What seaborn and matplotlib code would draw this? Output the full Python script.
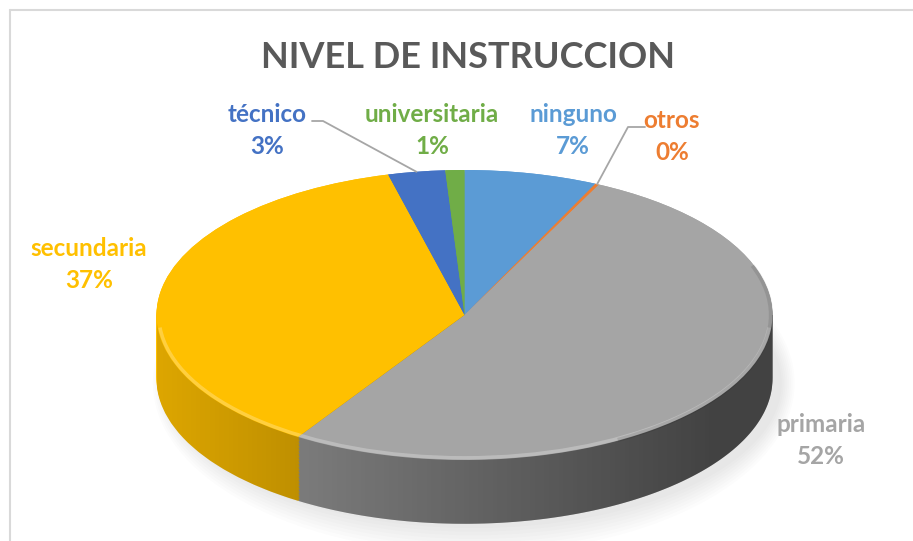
import numpy as np
import matplotlib
matplotlib.use("Agg")
import matplotlib.pyplot as plt
import seaborn as sns
from matplotlib.path import Path
from matplotlib.patches import PathPatch, Arc, Ellipse
from matplotlib.lines import Line2D

# ---- data ----
categories = ["ninguno", "otros", "primaria", "secundaria", "técnico", "universitaria"]
values = [7.0, 0.2, 52.0, 37.0, 3.0, 1.0]
colors = ["#5B9BD5", "#ED7D31", "#A5A5A5", "#FFC000", "#4472C4", "#70AD47"]
title = "NIVEL DE INSTRUCCION"

sns.set_theme(style="white")
plt.rcParams["font.family"] = ["Lato", "DejaVu Sans"]

W, H = 913, 541
fig = plt.figure(figsize=(W / 100, H / 100), dpi=100)
fig.patch.set_facecolor("white")

# pie geometry in pixels
CX, CY, RX, RY = 464.5, 315.0, 308.0, 145.0
T = 0.44  # side thickness in radius units (y)

def px2d(x, y):
    return (x - CX) / RX, (CY - y) / RY

ax = fig.add_axes([0, 0, 1, 1])

# soft shadow beneath
for i in range(8):
    e = Ellipse((0.03, -T - 0.03), 2.0 + 0.012 * i, 2.0 + 0.05 * i,
                facecolor="#000000", alpha=0.012, linewidth=0, zorder=0.5)
    ax.add_patch(e)

# side (extruded body)
for k in np.linspace(T, 0.0, 45):
    ax.pie(values, colors=colors, startangle=90, counterclock=False,
           center=(0, -k), radius=1.0, wedgeprops=dict(linewidth=0, antialiased=True),
           frame=True)

# horizontal darkening gradient on the side
th = np.linspace(np.pi, 2 * np.pi, 200)
verts = list(zip(np.cos(th), np.sin(th) - T)) + [(1, 0), (-1, 0), (-1, -T)]
codes = [Path.MOVETO] + [Path.LINETO] * (len(verts) - 2) + [Path.CLOSEPOLY]
clip = PathPatch(Path(verts, codes), transform=ax.transData, facecolor="none", edgecolor="none")
ax.add_patch(clip)
xs = np.linspace(-1, 1, 400)
xpx = CX + xs * RX
alpha = np.clip(0.14 + (xpx - 160) * 0.00083, 0.12, 0.6)
grad = np.zeros((1, len(xs), 4))
grad[..., 3] = alpha
im = ax.imshow(grad, extent=(-1, 1, -T - 1.05, 0.0), aspect="auto", zorder=2, interpolation="bilinear")
im.set_clip_path(clip)

# top face
wedges, _ = ax.pie(values, colors=colors, startangle=90, counterclock=False,
                   center=(0, 0), radius=1.0, wedgeprops=dict(linewidth=0), frame=True)
for w in wedges:
    w.set_zorder(3)

# bevel highlight / edge shading on top face rim
ax.add_patch(Arc((0, 0), 1.985, 1.97, theta1=185, theta2=355, color="white",
                 alpha=0.25, lw=2.5, zorder=4))
ax.add_patch(Arc((0, 0), 1.99, 1.99, theta1=-60, theta2=20, color="black",
                 alpha=0.10, lw=3, zorder=4))

ax.set_xlim(px2d(0, 0)[0], px2d(W, 0)[0])
ax.set_ylim(px2d(0, H)[1], px2d(0, 0)[1])
ax.set_aspect("auto")
ax.axis("off")

# ---- labels ----
pct = [v / sum(values) * 100 for v in values]
lab_pos = {
    "técnico": (267, 115, 147),
    "universitaria": (432, 115, 147),
    "ninguno": (573, 115, 147),
    "otros": (672, 120, 153),
    "secundaria": (89, 248, 281),
    "primaria": (821, 425, 457),
}
FS = 17.5
for cat, p, c in zip(categories, pct, colors):
    x, y1, y2 = lab_pos[cat]
    fig.text(x / W, 1 - y1 / H, cat, color=c, fontsize=FS, fontweight="bold",
             ha="center", va="center")
    fig.text(x / W, 1 - y2 / H, f"{p:.0f}%", color=c, fontsize=FS, fontweight="bold",
             ha="center", va="center")

# leader lines
def rim_point(i):
    w = wedges[i]
    m = np.deg2rad((w.theta1 + w.theta2) / 2)
    return np.cos(m), np.sin(m)

leaders = {"técnico": [(312, 121), (323, 121)], "otros": [(645, 127), (628, 127)]}
for cat, pts in leaders.items():
    i = categories.index(cat)
    dpts = [px2d(*p) for p in pts] + [rim_point(i)]
    ax.plot([p[0] for p in dpts], [p[1] for p in dpts], color="#A6A6A6", lw=1.3, zorder=5)

fig.text(468 / W, 1 - 57 / H, title, color="#595959", fontsize=26, fontweight="bold",
         ha="center", va="center")

# chart border
fig.add_artist(Line2D([10 / W, 1], [1 - 10 / H, 1 - 10 / H], color="#D9D9D9", lw=1.5))
fig.add_artist(Line2D([10 / W, 10 / W], [0, 1 - 10 / H], color="#D9D9D9", lw=1.5))

fig.savefig("out.png", dpi=100)
